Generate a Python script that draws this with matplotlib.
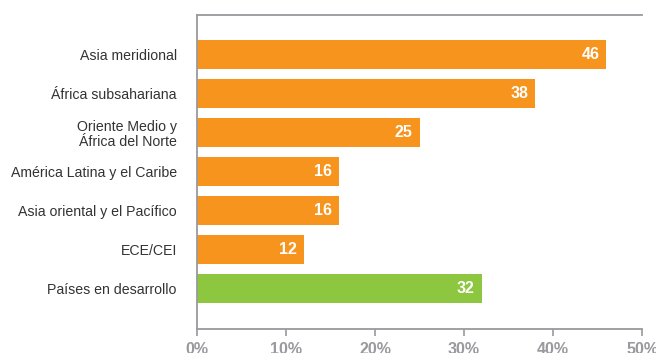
import matplotlib
matplotlib.use('Agg')
import matplotlib.pyplot as plt

regions = ['Asia meridional', 'África subsahariana', 'Oriente Medio y\nÁfrica del Norte',
           'América Latina y el Caribe', 'Asia oriental y el Pacífico', 'ECE/CEI',
           'Países en desarrollo']
values = [46, 38, 25, 16, 16, 12, 32]
colors = ['#F7941D'] * 6 + ['#8DC63F']
xticks = [0, 10, 20, 30, 40, 50]
xticklabels = ['0%', '10%', '20%', '30%', '40%', '50%']

narrow = ['Liberation Sans Narrow', 'Liberation Sans', 'DejaVu Sans']
gray = '#9a9a9e'

fig = plt.figure(figsize=(6.56, 3.53), dpi=100)
ax = fig.add_axes([0.3003, 0.068, 0.6784, 0.8904])

ypos = list(range(len(regions)))
ax.barh(ypos, values, height=0.74, color=colors)

for y, v in zip(ypos, values):
    ax.text(v - 0.8, y, str(v), ha='right', va='center', color='white',
            fontsize=11.5, fontweight='bold', family=['Liberation Sans', 'DejaVu Sans'])

ax.set_xlim(0, 50)
ax.set_ylim(7.04, -1.02)
ax.set_yticks(ypos)
ax.set_yticklabels(regions, family=narrow, fontsize=10.2, color='#333333',
                   linespacing=1.05)
ax.tick_params(axis='y', length=0, pad=14.5)
ax.set_xticks(xticks)
ax.set_xticklabels(xticklabels, family=narrow, fontsize=11.5, fontweight='bold',
                   color=gray)
ax.tick_params(axis='x', length=5, width=1.2, color=gray, pad=4.5)

for s in ['left', 'bottom', 'top']:
    ax.spines[s].set_color(gray)
    ax.spines[s].set_linewidth(1.3)
ax.spines['right'].set_visible(False)

fig.savefig('out.png', dpi=100)
